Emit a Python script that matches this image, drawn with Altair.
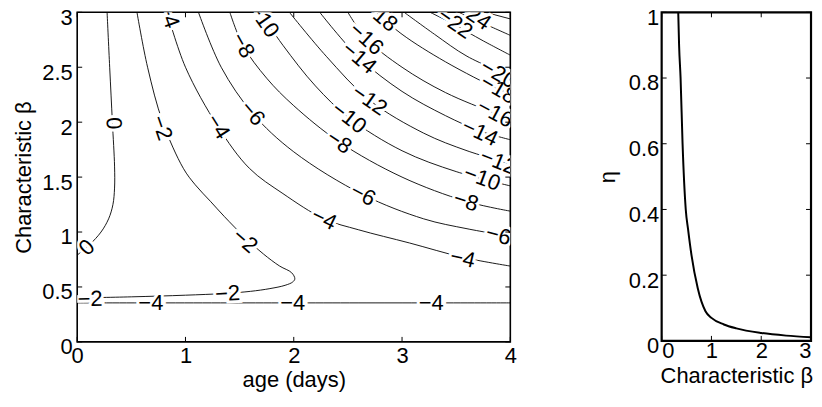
import altair as alt
import pandas as pd

# ---------------- contour lines (age in days, characteristic beta) ----------------
C_0 = [(0.276, 3.0), (0.30, 2.5), (0.325, 2.0), (0.345, 1.6), (0.345, 1.4), (0.33, 1.25),
       (0.29, 1.12), (0.22, 1.0), (0.12, 0.89), (0.05, 0.83), (0.0, 0.79)]
C_m2 = [(0.552, 3.0), (0.65, 2.5), (0.79, 2.0), (0.98, 1.58), (1.09, 1.43), (1.23, 1.28),
        (1.36, 1.14), (1.55, 0.95), (1.72, 0.80), (1.87, 0.69), (1.98, 0.63), (2.01, 0.574),
        (1.99, 0.545), (1.92, 0.515), (1.78, 0.485), (1.6, 0.46), (1.35, 0.44), (1.0, 0.425),
        (0.5, 0.41), (0.0, 0.40)]
C_m4a = [(0.83, 3.0), (1.0, 2.5), (1.30, 1.96), (1.59, 1.58), (1.9, 1.35), (2.28, 1.12),
         (2.6, 1.02), (3.07, 0.90), (3.56, 0.77), (4.0, 0.69)]
C_m4b = [(0.0, 0.355), (2.0, 0.355), (4.0, 0.355)]
C_m6 = [(1.12, 3.0), (1.33, 2.5), (1.62, 2.08), (2.0, 1.73), (2.64, 1.34), (3.2, 1.12),
        (3.6, 1.03), (4.0, 0.96)]
C_m8 = [(1.41, 3.0), (1.53, 2.70), (1.75, 2.40), (2.0, 2.15), (2.42, 1.82), (3.0, 1.50),
        (3.59, 1.28), (4.0, 1.19)]
C_m10 = [(1.69, 3.0), (1.9, 2.7), (2.2, 2.33), (2.51, 2.04), (3.0, 1.74), (3.5, 1.55), (4.0, 1.42)]
C_m12 = [(1.96, 3.0), (2.3, 2.6), (2.7, 2.2), (3.2, 1.9), (3.6, 1.74), (4.0, 1.62)]
C_m14 = [(2.24, 3.0), (2.6, 2.59), (3.0, 2.28), (3.4, 2.06), (3.72, 1.92), (4.0, 1.84)]
C_m16 = [(2.50, 3.0), (2.67, 2.76), (3.0, 2.5), (3.4, 2.27), (3.86, 2.08), (4.0, 2.03)]
C_m18 = [(2.76, 3.0), (3.0, 2.8), (3.4, 2.55), (3.89, 2.3), (4.0, 2.26)]
C_m20 = [(3.02, 3.0), (3.3, 2.8), (3.6, 2.6), (4.0, 2.42)]
C_m22 = [(3.26, 3.0), (3.46, 2.9), (3.75, 2.74), (4.0, 2.61)]
C_m24 = [(3.52, 3.0), (3.75, 2.9), (4.0, 2.79)]
C_m26 = [(3.77, 3.0), (4.0, 2.94)]

CONTOURS = [C_0, C_m2, C_m4a, C_m4b, C_m6, C_m8, C_m10, C_m12, C_m14, C_m16,
            C_m18, C_m20, C_m22, C_m24, C_m26]

# contour labels: text, age, beta
LABEL_TEXT = ["0", "0", "−2", "−2", "−2", "−2",
              "−4", "−4", "−4", "−4", "−4", "−4", "−4",
              "−6", "−6", "−6", "−8", "−8", "−8", "−10", "−10", "−10",
              "−12", "−12", "−14", "−14", "−16", "−16", "−18", "−18",
              "−20", "−22", "−24"]
LABEL_AGE = [0.337, 0.09, 0.78, 1.55, 1.39, 0.12,
             0.845, 1.30, 2.28, 3.56, 0.68, 1.99, 3.27,
             1.62, 2.64, 3.89, 1.53, 2.42, 3.59, 1.72, 2.51, 3.74,
             2.70, 3.89, 2.605, 3.72, 2.67, 3.86, 2.80, 3.89,
             3.89, 3.49, 3.66]
LABEL_BETA = [1.99, 0.86, 1.95, 0.92, 0.44, 0.39,
              2.97, 1.96, 1.12, 0.76, 0.355, 0.355, 0.355,
              2.08, 1.34, 0.97, 2.70, 1.82, 1.28, 2.93, 2.04, 1.49,
              2.20, 1.64, 2.586, 1.906, 2.76, 2.08, 2.97, 2.30,
              2.44, 2.90, 2.98]
LABEL_ANGLE = [88, -45, 71, 41, -3, -1,
               70, 58, 26, 13, 0, 0, 0,
               50, 28, 15, 61, 34, 18, 55, 38, 20,
               35, 22, 40, 25, 42, 28, 40, 30,
               30, 35, 35]

# ticks
X_TICKS_L = [0, 1, 2, 3, 4]
Y_TICKS_L = [0, 0.5, 1, 1.5, 2, 2.5, 3]
X_TICKS_R = [0, 1, 2, 3]
Y_TICKS_R = [0, 0.2, 0.4, 0.6, 0.8, 1]

# right panel: eta vs characteristic beta
ETA_BETA = [0.333, 0.35, 0.38, 0.42, 0.484, 0.53, 0.6, 0.725, 0.88, 1.0, 1.25, 1.5, 2.0, 2.5, 3.0]
ETA_VAL = [1.0, 0.9, 0.8, 0.6, 0.4, 0.34, 0.26, 0.16, 0.09, 0.07, 0.05, 0.038, 0.024, 0.016, 0.011]

FONT = "Liberation Sans"
FS = 22
LFS = 22
WL, HL = 435, 331
WR, HR = 150, 330
TICK = 5

rows = []
for k, c in enumerate(CONTOURS):
    for i, (a, b) in enumerate(c):
        rows.append({"seg": k, "i": i, "age": a, "beta": b})
cdf = pd.DataFrame(rows)
ldf = pd.DataFrame({"t": LABEL_TEXT, "age": LABEL_AGE, "beta": LABEL_BETA, "ang": LABEL_ANGLE})

xs_l = alt.Scale(domain=[0, 4], nice=False, zero=False)
ys_l = alt.Scale(domain=[0, 3], nice=False, zero=False)

common = dict(format="~g", ticks=False, tickSize=0, domain=False, grid=False)
ax_x_l = alt.Axis(values=X_TICKS_L, labelPadding=4, title="age (days)", titlePadding=3,
                  labelFlush=False, **common)
ax_y_l = alt.Axis(values=Y_TICKS_L, labelPadding=5, labelOffset=5, title="Characteristic β",
                  titlePadding=6, labelFlush=False, **common)

lines = alt.Chart(cdf).mark_line(color="black", strokeWidth=0.9, interpolate="catmull-rom", clip=True).encode(
    x=alt.X("age:Q", scale=xs_l, axis=ax_x_l),
    y=alt.Y("beta:Q", scale=ys_l, axis=ax_y_l),
    detail="seg:N",
    order="i:Q",
)

halo = alt.Chart(ldf).mark_text(font=FONT, fontSize=LFS, color="white", stroke="white", strokeWidth=6,
                                clip=True, baseline="middle", align="center").encode(
    x=alt.X("age:Q", scale=xs_l), y=alt.Y("beta:Q", scale=ys_l), text="t:N", angle=alt.Angle("ang:Q", scale=None)
)
labels = alt.Chart(ldf).mark_text(font=FONT, fontSize=LFS, color="black",
                                  clip=True, baseline="middle", align="center").encode(
    x=alt.X("age:Q", scale=xs_l), y=alt.Y("beta:Q", scale=ys_l), text="t:N", angle=alt.Angle("ang:Q", scale=None)
)

xt_l = pd.DataFrame({"v": X_TICKS_L})
yt_l = pd.DataFrame({"v": Y_TICKS_L})
tk = dict(color="black", strokeWidth=1)
xb = alt.Chart(xt_l).mark_rule(**tk).encode(x=alt.X("v:Q", scale=xs_l), y=alt.value(HL), y2=alt.value(HL - TICK))
xtp = alt.Chart(xt_l).mark_rule(**tk).encode(x=alt.X("v:Q", scale=xs_l), y=alt.value(0), y2=alt.value(TICK))
yl = alt.Chart(yt_l).mark_rule(**tk).encode(y=alt.Y("v:Q", scale=ys_l), x=alt.value(0), x2=alt.value(TICK))
yr = alt.Chart(yt_l).mark_rule(**tk).encode(y=alt.Y("v:Q", scale=ys_l), x=alt.value(WL), x2=alt.value(WL - TICK))

left = alt.layer(lines, halo, labels, xb, xtp, yl, yr).properties(
    width=WL, height=HL, view=alt.ViewBackground(stroke="black", strokeWidth=1.6))

# right panel
edf = pd.DataFrame({"b": ETA_BETA, "eta": ETA_VAL})
xs_r = alt.Scale(domain=[0, 3], nice=False, zero=False)
ys_r = alt.Scale(domain=[0, 1], nice=False, zero=False)
ax_x_r = alt.Axis(values=X_TICKS_R, labelPadding=0, title="Characteristic β", titlePadding=4,
                  labelFlush=True, **common)
ax_y_r = alt.Axis(values=Y_TICKS_R, labelPadding=3, labelOffset=5, title="η", titlePadding=9,
                  labelFlush=False, **common)
curve = alt.Chart(edf).mark_line(color="black", strokeWidth=2, interpolate="monotone", clip=True).encode(
    x=alt.X("b:Q", scale=xs_r, axis=ax_x_r),
    y=alt.Y("eta:Q", scale=ys_r, axis=ax_y_r),
)
xt_r = pd.DataFrame({"v": X_TICKS_R})
yt_r = pd.DataFrame({"v": Y_TICKS_R})
rxb = alt.Chart(xt_r).mark_rule(**tk).encode(x=alt.X("v:Q", scale=xs_r), y=alt.value(HR), y2=alt.value(HR - TICK))
rxt = alt.Chart(xt_r).mark_rule(**tk).encode(x=alt.X("v:Q", scale=xs_r), y=alt.value(0), y2=alt.value(TICK))
ryl = alt.Chart(yt_r).mark_rule(**tk).encode(y=alt.Y("v:Q", scale=ys_r), x=alt.value(0), x2=alt.value(TICK))
ryr = alt.Chart(yt_r).mark_rule(**tk).encode(y=alt.Y("v:Q", scale=ys_r), x=alt.value(WR), x2=alt.value(WR - TICK))

right = alt.layer(curve, rxb, rxt, ryl, ryr).properties(
    width=WR, height=HR, view=alt.ViewBackground(stroke="black", strokeWidth=2.2))

chart = alt.hconcat(left, right, spacing=78).properties(
    padding={"left": 3.5, "top": -4.5, "right": 0, "bottom": 0}
).configure_axis(
    labelFont=FONT, labelFontSize=FS, labelColor="black",
    titleFont=FONT, titleFontSize=FS, titleColor="black", titleFontWeight="normal",
).configure_view(stroke="black")

chart.save("out.html", embed_options={"renderer": "svg", "actions": False})
